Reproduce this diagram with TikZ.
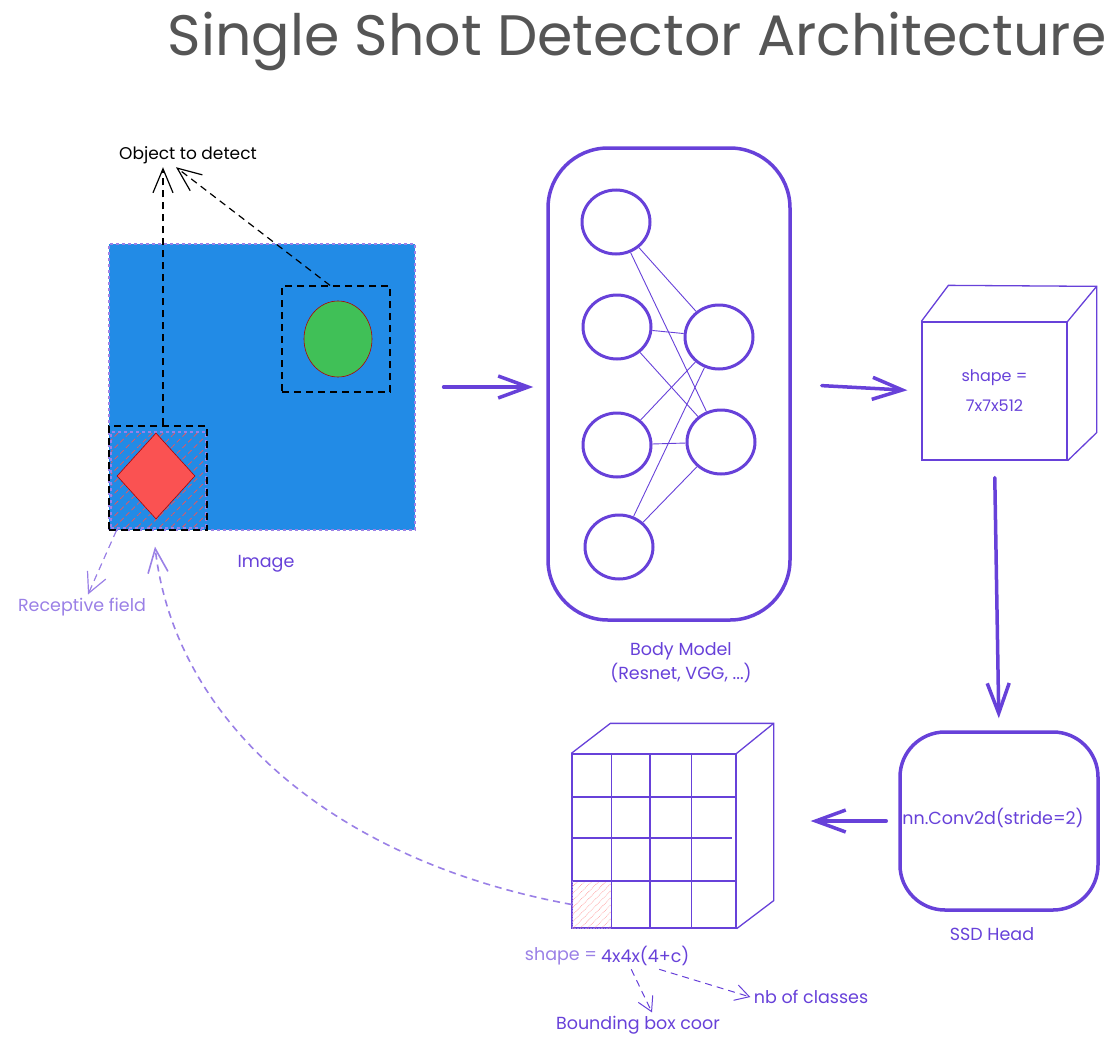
\documentclass[tikz,border=0pt]{standalone}
\usepackage{fontspec}
\setmainfont{Poppins}
\usetikzlibrary{arrows.meta,positioning,patterns.meta,shapes.geometric}

\definecolor{ssdviolet}{HTML}{6741D9}
\definecolor{softviolet}{HTML}{9A80E6}
\definecolor{titlegray}{HTML}{555555}
\definecolor{imgblue}{HTML}{228BE6}
\definecolor{objgreen}{HTML}{40C057}
\definecolor{objred}{HTML}{FA5252}
\definecolor{hatchred}{HTML}{FF8787}

\begin{document}
\begin{tikzpicture}[
    x=1pt, y=-1pt,
    lbl/.style={
        text=ssdviolet,
        font=\fontsize{17.5}{24}\selectfont,
        align=center
    },
    softlbl/.style={
        lbl,
        text=softviolet
    },
    panel/.style={
        rectangle,
        draw=ssdviolet,
        line width=3.5pt,
        inner sep=0pt
    },
    neuron/.style={
        ellipse,
        draw=ssdviolet,
        line width=3pt,
        minimum width=68pt,
        minimum height=64pt
    },
    link/.style={
        draw=ssdviolet,
        line width=0.9pt
    },
    face/.style={
        rectangle,
        draw=ssdviolet,
        line width=1.3pt,
        inner sep=0pt
    },
    flow/.style={
        -{Straight Barb[length=30pt,width=22pt]},
        draw=ssdviolet,
        line width=3.5pt,
        line cap=round
    },
    hint/.style={
        -{Straight Barb[length=24pt,width=20pt]},
        dash pattern=on 7pt off 5pt,
        line width=1.2pt
    },
    framebox/.style={
        rectangle,
        draw=black,
        dash pattern=on 7pt off 5pt,
        line width=1.2pt,
        inner sep=0pt
    }
]
\useasboundingbox (0,0) rectangle (1116,1049);

% Title
\node[text=titlegray, font=\fontsize{57}{66}\selectfont] (title) at (637,42) {Single Shot Detector Architecture};

% Input image
\node[rectangle, fill=imgblue, draw=softviolet, dashed, line width=1.2pt,
      minimum width=306pt, minimum height=286pt] (img) at (262,387) {};
\node[rectangle, draw=softviolet, dashed, line width=1.2pt,
      pattern={Lines[angle=45,distance=8pt,line width=0.7pt]}, pattern color=objred,
      minimum width=95pt, minimum height=96pt] (hatch) at (158.5,480) {};
\node[diamond, fill=objred, draw=red!70!black, line width=0.6pt, inner sep=0pt,
      minimum width=78pt, minimum height=86pt] (diam) at (156,476) {};
\node[framebox, minimum width=98pt, minimum height=104pt] (redbox) at (158,478) {};
\node[ellipse, fill=objgreen, draw=red!70!black, line width=0.6pt,
      minimum width=68pt, minimum height=76pt] (ball) at (338,339) {};
\node[framebox, minimum width=108pt, minimum height=106pt] (greenbox) at (336,339) {};

\node[font=\fontsize{17}{20}\selectfont] (obj) at (188,155) {Object to detect};
\node[lbl] (imglbl) at (266,564) {Image};
\node[softlbl] (recep) at (82,607) {Receptive field};

\draw[hint] ([xshift=5pt]redbox.north) -- ([xshift=-25pt]obj.south);
\draw[hint] ([xshift=-6pt]greenbox.north) -- ([xshift=-12pt]obj.south);
\draw[hint, softviolet, -{Straight Barb[length=20pt,width=20pt]}]
    ([xshift=8pt]redbox.south west) -- ([xshift=6pt]recep.north);

% Body model
\node[panel, rounded corners=60pt, minimum width=242pt, minimum height=472pt] (body) at (669,384) {};
\node[neuron] (in1) at (616,222) {};
\node[neuron] (in2) at (617,327) {};
\node[neuron] (in3) at (617,445) {};
\node[neuron] (in4) at (619,547) {};
\node[neuron] (out1) at (719,337) {};
\node[neuron] (out2) at (721,442) {};
\node[lbl] (bodylbl) at (681,663) {Body Model\\(Resnet, VGG, ...)};

\draw[link] (in1) -- (out1);
\draw[link] (in1) -- (out2);
\draw[link] (in2) -- (out1);
\draw[link] (in2) -- (out2);
\draw[link] (in3) -- (out1);
\draw[link] (in3) -- (out2);
\draw[link] (in4) -- (out1);
\draw[link] (in4) -- (out2);

% Feature map
\node[face, minimum width=145pt, minimum height=138pt] (feat) at (994.5,391) {};
\draw[ssdviolet, line width=1.3pt] (feat.north west) -- ++(27,-36) -- ([shift={(29,-35)}]feat.north east)
    -- ([shift={(29,-28)}]feat.south east) -- (feat.south east);
\draw[ssdviolet, line width=1.3pt] (feat.north east) -- ++(29,-35);
\node[lbl, font=\fontsize{16}{30}\selectfont] (featlbl) at (feat) {shape =\\7x7x512};

% SSD head
\node[panel, rounded corners=45pt, minimum width=198pt, minimum height=178pt] (head) at (999,821) {};
\node[lbl] (conv) at (993,818) {nn.Conv2d(stride=2)};
\node[lbl] (headlbl) at (992,934) {SSD Head};

% Output grid
\node[face, minimum width=164pt, minimum height=174pt] (grid) at (654,841) {};
\node[rectangle, draw=softviolet, densely dotted, line width=1pt, inner sep=0pt,
      pattern={Lines[angle=45,distance=5pt,line width=0.6pt]}, pattern color=hatchred,
      minimum width=39pt, minimum height=47pt] (cell) at (591.5,904.5) {};
\draw[ssdviolet, line width=1.5pt] (611.7,754) -- (611.7,928);
\draw[ssdviolet, line width=1.5pt] (650,754) -- (650,928);
\draw[ssdviolet, line width=1.5pt] (691.7,754) -- (691.7,928);
\draw[ssdviolet, line width=1.5pt] (573,797) -- (735,797);
\draw[ssdviolet, line width=1.5pt] (572,838) -- (732,838);
\draw[ssdviolet, line width=1.5pt] (573,881) -- (735,881);
\draw[ssdviolet, line width=1.3pt] (grid.north west) -- ++(39,-30) -- ([shift={(37,-30)}]grid.north east)
    -- ([shift={(37,-28)}]grid.south east) -- (grid.south east);
\draw[ssdviolet, line width=1.3pt] (grid.north east) -- ++(37,-30);

\node[softlbl] (gshape) at (561,956) {shape =};
\node[lbl, right=-3pt of gshape] (gdims) {4x4x(4+c)};
\node[lbl] (bbox) at (638,1025) {Bounding box coor};
\node[lbl] (classes) at (811,997) {nb of classes};

\draw[hint, ssdviolet, -{Straight Barb[length=14pt,width=16pt]}, line width=1pt]
    ([xshift=-14pt]gdims.south) -- ([xshift=14pt]bbox.north);
\draw[hint, ssdviolet, -{Straight Barb[length=14pt,width=16pt]}, line width=1pt]
    ([xshift=14pt]gdims.south) -- (classes.west);

% Flow between stages
\draw[flow, shorten <=28pt, shorten >=13pt] (img.east) -- (body.west |- img.east);
\draw[flow, shorten <=30pt, shorten >=14pt] (body.east) -- (feat.west);
\draw[flow, shorten <=17pt, shorten >=12pt] (feat.south) -- (head.north);
\draw[flow, shorten <=12pt, shorten >=74pt] (head.west) -- (head.west -| grid.east);

% Receptive field link
\draw[hint, softviolet, line width=1.6pt]
    (cell.west) .. controls (330,860) and (175,720) .. ([xshift=-3pt,yshift=-16pt]redbox.south);

\end{tikzpicture}
\end{document}
